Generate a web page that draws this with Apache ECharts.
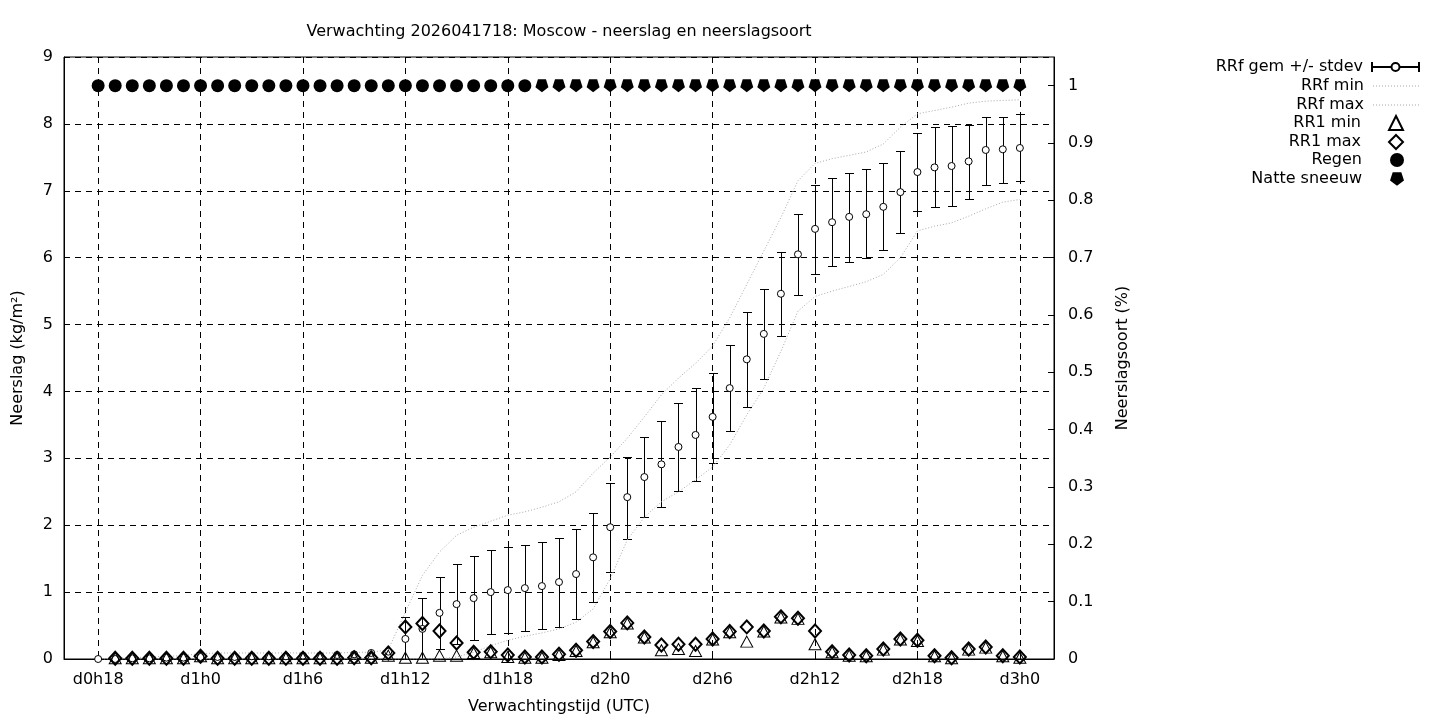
<!DOCTYPE html>
<html>
<head>
<meta charset="utf-8">
<script src="https://cdn.jsdelivr.net/npm/echarts@6/dist/echarts.min.js"></script>
<style>
html,body{margin:0;padding:0;background:#fff;}
#chart{width:1440px;height:720px;}
</style>
</head>
<body>
<div id="chart"></div>
<script>
// Forecast hours (hours since d0h0), one point per hour
var hours = [18,19,20,21,22,23,24,25,26,27,28,29,30,31,32,33,34,35,36,37,38,39,40,41,42,43,44,45,46,47,48,49,50,51,52,53,54,55,56,57,58,59,60,61,62,63,64,65,66,67,68,69,70,71,72];
var xTickHours = [18,24,30,36,42,48,54,60,66,72];

// RRf mean (cumulative, kg/m2)
var rrfMean = [0,0.00,0.01,0.01,0.02,0.02,0.03,0.03,0.03,0.04,0.04,0.04,0.05,0.05,0.06,0.07,0.09,0.11,0.30,0.45,0.69,0.82,0.91,1.00,1.03,1.06,1.09,1.15,1.27,1.52,1.97,2.42,2.72,2.91,3.17,3.35,3.62,4.05,4.48,4.86,5.46,6.05,6.43,6.53,6.61,6.65,6.76,6.98,7.28,7.35,7.37,7.44,7.61,7.62,7.64];
// mean - stdev / mean + stdev
var rrfLow  = [null,null,null,null,null,null,null,null,null,null,null,null,null,null,null,null,null,null,0.00,0.00,0.15,0.22,0.28,0.37,0.39,0.42,0.45,0.48,0.60,0.85,1.30,1.79,2.12,2.27,2.51,2.66,2.93,3.41,3.77,4.19,4.83,5.44,5.75,5.87,5.93,5.99,6.11,6.37,6.70,6.76,6.77,6.87,7.09,7.11,7.14];
var rrfHigh = [null,null,null,null,null,null,null,null,null,null,null,null,null,null,null,null,null,null,0.63,0.91,1.23,1.42,1.54,1.63,1.67,1.70,1.75,1.81,1.94,2.18,2.63,3.02,3.32,3.56,3.83,4.05,4.27,4.69,5.19,5.53,6.08,6.65,7.09,7.19,7.26,7.32,7.41,7.59,7.86,7.95,7.97,7.98,8.10,8.10,8.15];
// RRf min / max
var rrfMin = [0,0,0,0,0,0,0,0,0,0,0,0,0,0,0,0,0,0,0,0,0,0.03,0.10,0.20,0.28,0.34,0.39,0.45,0.55,0.75,1.20,1.78,2.12,2.35,2.50,2.68,2.87,3.20,3.65,4.05,4.60,5.20,5.42,5.50,5.57,5.64,5.75,6.00,6.40,6.47,6.52,6.62,6.73,6.83,6.87];
var rrfMax = [0,0.01,0.02,0.03,0.04,0.05,0.08,0.09,0.09,0.09,0.09,0.09,0.09,0.09,0.09,0.10,0.10,0.14,0.70,1.25,1.60,1.85,1.97,2.06,2.15,2.20,2.27,2.35,2.50,2.78,3.02,3.30,3.62,3.95,4.20,4.42,4.68,5.10,5.60,6.10,6.60,7.15,7.41,7.48,7.53,7.58,7.70,7.95,8.15,8.20,8.25,8.31,8.34,8.35,8.36];
// RR1 (hourly) min / max
var rr1Min = [null,0.01,0.01,0.01,0.01,0.01,0.04,0.01,0.01,0.01,0.01,0.01,0.01,0.01,0.01,0.02,0.02,0.05,0.02,0.02,0.05,0.05,0.09,0.10,0.03,0.02,0.02,0.06,0.12,0.25,0.40,0.53,0.32,0.13,0.15,0.12,0.29,0.40,0.26,0.41,0.62,0.60,0.22,0.10,0.05,0.04,0.14,0.29,0.27,0.04,0.01,0.14,0.17,0.04,0.02];
var rr1Max = [null,0.01,0.01,0.01,0.01,0.01,0.04,0.01,0.01,0.01,0.01,0.01,0.01,0.01,0.01,0.02,0.02,0.09,0.48,0.53,0.42,0.24,0.10,0.11,0.06,0.03,0.03,0.07,0.13,0.26,0.41,0.54,0.33,0.21,0.22,0.22,0.30,0.41,0.48,0.42,0.63,0.61,0.42,0.11,0.06,0.05,0.15,0.30,0.28,0.05,0.02,0.15,0.18,0.05,0.03];
// Precipitation type fractions (right axis)
var regen = [1,1,1,1,1,1,1,1,1,1,1,1,1,1,1,1,1,1,1,1,1,1,1,1,1,1,null,null,null,null,null,null,null,null,null,null,null,null,null,null,null,null,null,null,null,null,null,null,null,null,null,null,null,null,null];
var natteSneeuw = [null,null,null,null,null,null,null,null,null,null,null,null,null,null,null,null,null,null,null,null,null,null,null,null,null,null,1,1,1,1,1,1,1,1,1,1,1,1,1,1,1,1,1,1,1,1,1,1,1,1,1,1,1,1,1];

var yLeftTicks = [0,1,2,3,4,5,6,7,8,9];
var yRightTicks = [0,0.1,0.2,0.3,0.4,0.5,0.6,0.7,0.8,0.9,1];

function pairs(ys){ return hours.map(function(h,i){ return [h, ys[i]]; }); }
var errData = [];
hours.forEach(function(h,i){ if(rrfLow[i]!==null){ errData.push([h, rrfLow[i], rrfHigh[i]]); } });

function hourLabel(v){ var d=Math.floor(v/24); return 'd'+d+'h'+(v-d*24); }

var FONT = 'DejaVu Sans';
var FS = 16;
var pentagon = 'path://M0,1L-0.951,0.309L-0.588,-0.809L0.588,-0.809L0.951,0.309Z';
// icons are 47x14 boxes (bounds forced with moveTo points)
var errIcon = 'path://M0,0M47,14M0,7L19.5,7M27.5,7L47,7M0,2L0,12M47,2L47,12M27.5,7A4,4,0,1,1,19.5,7A4,4,0,1,1,27.5,7Z';
var dotIcon = 'path://M0,0M47,14';
for (var k=0; k<16; k++){ dotIcon += 'M'+(k*3)+',6.5h1v1h-1z'; }

var legendNames = ['RRf gem +/- stdev','RRf min','RRf max','RR1 min','RR1 max','Regen','Natte sneeuw'];
var legendRows = [66,85,104,122,141,159,178];
var legends = legendNames.map(function(n,i){
  var item = {name:n};
  var iw = 14, right = 36, pad = 23;
  if(i<3){ item.icon = (i===0 ? errIcon : dotIcon); iw = 47; right = 20; pad = 4; }
  return {
    data:[item], orient:'vertical', right:right, top:legendRows[i]-7, padding:0,
    align:'right', itemWidth:iw, itemHeight:14, selectedMode:false,
    textStyle:{fontFamily:FONT, fontSize:FS, color:'#000', padding:[0,pad,0,0]}
  };
});

var dotted = {color:'#a8a8a8', width:1, type:[1,2]};
var gridDash = {color:'#000', width:1, type:[6,5]};

var option = {
  animation:false,
  backgroundColor:'#fff',
  title:{
    text:'Verwachting 2026041718: Moscow - neerslag en neerslagsoort',
    left:554, top:19, textAlign:'center',
    textStyle:{fontFamily:FONT, fontSize:FS, fontWeight:'normal', color:'#000'}
  },
  legend: legends,
  grid:{left:64, right:386, top:57, bottom:61, show:true, borderColor:'#000', borderWidth:1, backgroundColor:'transparent'},
  xAxis:{
    type:'value', min:16, max:74,
    name:'Verwachtingstijd (UTC)', nameLocation:'middle', nameGap:40,
    nameTextStyle:{fontFamily:FONT, fontSize:FS, color:'#000'},
    axisLine:{show:true, lineStyle:{color:'#000'}},
    axisTick:{show:true, inside:true, length:6, lineStyle:{color:'#000'}, customValues:xTickHours},
    axisLabel:{fontFamily:FONT, fontSize:FS, color:'#000', margin:13, customValues:xTickHours, formatter:hourLabel},
    splitLine:{show:true, lineStyle:gridDash}
  },
  yAxis:[{
    type:'value', min:yLeftTicks[0], max:yLeftTicks[yLeftTicks.length-1], interval:1, position:'left',
    name:'Neerslag (kg/m²)', nameLocation:'middle', nameGap:38,
    nameTextStyle:{fontFamily:FONT, fontSize:FS, color:'#000'},
    axisLine:{show:true, lineStyle:{color:'#000'}},
    axisTick:{show:true, inside:true, length:6, lineStyle:{color:'#000'}},
    axisLabel:{fontFamily:FONT, fontSize:FS, color:'#000', margin:11},
    splitLine:{show:true, lineStyle:gridDash}
  },{
    type:'value', min:0, max:1.05, interval:0.1, position:'right',
    name:'Neerslagsoort (%)', nameLocation:'middle', nameGap:61,
    nameTextStyle:{fontFamily:FONT, fontSize:FS, color:'#000'},
    axisLine:{show:true, lineStyle:{color:'#000'}},
    axisTick:{show:true, inside:true, length:6, lineStyle:{color:'#000'}, customValues:yRightTicks},
    axisLabel:{fontFamily:FONT, fontSize:FS, color:'#000', margin:14, customValues:yRightTicks,
      formatter:function(v){ return String(Math.round(v*10)/10); }},
    splitLine:{show:false}
  }],
  series:[
    {
      name:'RRf errorbars', type:'custom', xAxisIndex:0, yAxisIndex:0, z:2,
      data:errData, encode:{x:0, y:[1,2]},
      renderItem:function(params, api){
        var x=api.value(0), lo=api.value(1), hi=api.value(2);
        var p1=api.coord([x,lo]), p2=api.coord([x,hi]);
        var cx=Math.round(p1[0])+0.5, y1=Math.round(p1[1])+0.5, y2=Math.round(p2[1])+0.5;
        var w=4.5, st={stroke:'#000', lineWidth:1, fill:null};
        return {type:'group', children:[
          {type:'line', shape:{x1:cx,y1:y1,x2:cx,y2:y2}, style:st},
          {type:'line', shape:{x1:cx-w,y1:y1,x2:cx+w,y2:y1}, style:st},
          {type:'line', shape:{x1:cx-w,y1:y2,x2:cx+w,y2:y2}, style:st}
        ]};
      }
    },
    {
      name:'RRf gem +/- stdev', type:'scatter', z:3, data:pairs(rrfMean),
      symbol:'circle', symbolSize:7,
      itemStyle:{color:'#fff', borderColor:'#000', borderWidth:1, opacity:1}
    },
    {
      name:'RRf min', type:'line', z:3, data:pairs(rrfMin), symbol:'none', showSymbol:false,
      lineStyle:dotted, itemStyle:{color:'#a8a8a8'}
    },
    {
      name:'RRf max', type:'line', z:3, data:pairs(rrfMax), symbol:'none', showSymbol:false,
      lineStyle:dotted, itemStyle:{color:'#a8a8a8'}
    },
    {
      name:'RR1 min', type:'scatter', z:4, data:pairs(rr1Min),
      symbol:'triangle', symbolSize:[12,11],
      itemStyle:{color:'rgba(255,255,255,0)', borderColor:'#000', borderWidth:1, opacity:1}
    },
    {
      name:'RR1 max', type:'scatter', z:5, data:pairs(rr1Max),
      symbol:'diamond', symbolSize:[12,13],
      itemStyle:{color:'rgba(255,255,255,0)', borderColor:'#000', borderWidth:2, opacity:1}
    },
    {
      name:'Regen', type:'scatter', yAxisIndex:1, z:5, data:pairs(regen),
      symbol:'circle', symbolSize:13, itemStyle:{color:'#000', opacity:1}
    },
    {
      name:'Natte sneeuw', type:'scatter', yAxisIndex:1, z:5, data:pairs(natteSneeuw),
      symbol:pentagon, symbolSize:13, itemStyle:{color:'#000', opacity:1}
    }
  ]
};

var chart = echarts.init(document.getElementById('chart'), null, {renderer:'canvas'});
chart.setOption(option);
</script>
</body>
</html>
